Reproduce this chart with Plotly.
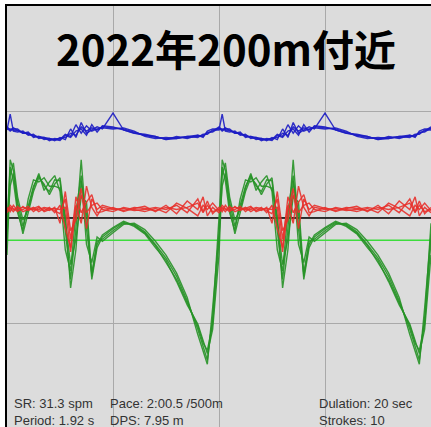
import plotly.graph_objects as go

# Stroke phase (fraction of one stroke cycle) at which each profile is sampled
PHASE = [0, 0.015, 0.03, 0.05, 0.075, 0.1, 0.125, 0.15, 0.175, 0.2, 0.225, 0.25,
         0.275, 0.3, 0.325, 0.35, 0.375, 0.4, 0.425, 0.45, 0.5, 0.55, 0.6, 0.65,
         0.7, 0.75, 0.8, 0.85, 0.9, 0.925, 0.945, 0.97]

# Blue trace: four overlaid strokes
BLUE_STROKES = [
    [0.84, 0.84, 0.83, 0.82, 0.81, 0.79, 0.78, 0.76, 0.75, 0.74, 0.74, 0.75, 0.76, 0.80, 0.78, 0.86,
     0.82, 0.85, 0.83, 0.86, 0.85, 0.84, 0.81, 0.78, 0.76, 0.75, 0.76, 0.76, 0.77, 0.78, 0.80, 0.82],
    [0.86, 0.83, 0.85, 0.83, 0.80, 0.80, 0.77, 0.77, 0.76, 0.75, 0.73, 0.76, 0.74, 0.84, 0.76, 0.90,
     0.80, 0.83, 0.86, 0.84, 0.99, 0.83, 0.80, 0.79, 0.77, 0.74, 0.75, 0.77, 0.76, 0.79, 0.79, 0.83],
    [0.83, 0.98, 0.82, 0.81, 0.82, 0.78, 0.79, 0.75, 0.76, 0.73, 0.75, 0.74, 0.79, 0.77, 0.88, 0.80,
     0.87, 0.82, 0.84, 0.85, 0.84, 0.85, 0.82, 0.77, 0.75, 0.76, 0.75, 0.77, 0.78, 0.77, 0.81, 0.81],
    [0.85, 0.82, 0.84, 0.84, 0.80, 0.81, 0.76, 0.77, 0.74, 0.75, 0.74, 0.73, 0.78, 0.76, 0.82, 0.84,
     0.78, 0.88, 0.81, 0.87, 0.86, 0.83, 0.80, 0.78, 0.77, 0.74, 0.77, 0.75, 0.78, 0.76, 0.82, 0.84],
]

# Red trace: four overlaid strokes
RED_STROKES = [
    [0.08, 0.10, 0.08, 0.09, 0.10, 0.09, 0.08, 0.08, 0.10, 0.09, 0.07, 0.04, 0.18, -0.20, 0.12, -0.05,
     0.30, 0.10, 0.02, 0.10, 0.08, 0.09, 0.07, 0.08, 0.10, 0.08, 0.12, 0.05, 0.18, 0.06, 0.16, 0.04],
    [0.10, 0.06, 0.12, 0.07, 0.08, 0.11, 0.06, 0.10, 0.07, 0.10, 0.05, 0.12, -0.10, -0.28, 0.20, 0.05,
     0.15, 0.22, 0.05, 0.06, 0.10, 0.06, 0.09, 0.11, 0.06, 0.12, 0.04, 0.16, 0.08, 0.20, 0.02, 0.10],
    [0.05, 0.09, 0.06, 0.11, 0.06, 0.08, 0.10, 0.06, 0.09, 0.07, 0.10, -0.05, 0.25, -0.12, -0.02, 0.22,
     0.05, 0.12, 0.14, 0.08, 0.06, 0.10, 0.08, 0.06, 0.09, 0.05, 0.14, 0.09, 0.02, 0.12, 0.08, 0.14],
    [0.07, 0.12, 0.09, 0.06, 0.11, 0.07, 0.09, 0.11, 0.06, 0.08, 0.09, 0.08, 0.10, -0.32, 0.08, 0.28,
     -0.10, 0.18, 0.08, 0.12, 0.09, 0.07, 0.10, 0.09, 0.07, 0.10, 0.08, 0.10, 0.14, 0.05, 0.12, 0.06],
]

# Green trace: four overlaid strokes
GREEN_STROKES = [
    [-0.21, 0.55, 0.45, 0.15, -0.08, 0.12, 0.30, 0.40, 0.30, 0.25, 0.36, 0.35, -0.15, -0.58, -0.10, 0.55,
     -0.10, -0.52, -0.22, -0.20, -0.12, -0.05, -0.06, -0.13, -0.25, -0.38, -0.55, -0.78, -1.05, -1.20, -1.34, -0.95],
    [-0.05, 0.48, 0.35, 0.05, -0.12, 0.18, 0.36, 0.34, 0.38, 0.30, 0.30, 0.28, 0.02, -0.66, -0.30, 0.35,
     0.05, -0.58, -0.28, -0.18, -0.10, -0.04, -0.08, -0.15, -0.28, -0.40, -0.60, -0.82, -1.00, -1.15, -1.28, -1.05],
    [-0.35, 0.40, 0.52, 0.20, -0.02, 0.08, 0.28, 0.42, 0.26, 0.34, 0.40, 0.25, -0.30, -0.50, 0.05, 0.40,
     -0.25, -0.42, -0.18, -0.22, -0.14, -0.06, -0.05, -0.11, -0.22, -0.35, -0.52, -0.75, -1.10, -1.25, -1.38, -0.85],
    [-0.15, 0.30, 0.42, 0.10, -0.15, 0.05, 0.25, 0.38, 0.32, 0.22, 0.32, 0.38, -0.05, -0.44, -0.20, 0.20,
     0.15, -0.55, -0.25, -0.16, -0.09, -0.03, -0.07, -0.14, -0.26, -0.42, -0.58, -0.80, -1.02, -1.18, -1.25, -1.00],
]

ZERO_LEVEL = 0.0
GREEN_LEVEL = -0.21
N_CYCLES = 2

TITLE = "2022年200m付近"
STATS_COL1 = ["SR: 31.3 spm", "Period: 1.92 s"]
STATS_COL2 = ["Pace: 2:00.5 /500m", "DPS: 7.95 m"]
STATS_COL3 = ["Dulation: 20 sec", "Strokes: 10"]

W, H = 431, 427
ML, MT = 7, 6
X_RANGE = [0, 2.0]
Y_RANGE = [-1.972, 2.0]

fig = go.Figure()

# reference levels
for level, color in [(GREEN_LEVEL, "#3ddc3d"), (ZERO_LEVEL, "#000000")]:
    fig.add_trace(go.Scatter(x=X_RANGE, y=[level, level], mode="lines",
                             line=dict(color=color, width=1.6), hoverinfo="skip"))


def cycle_trace(strokes, idx):
    """Join stroke idx in cycle 1 with the next stroke in cycle 2."""
    xs, ys = [], []
    for c in range(N_CYCLES):
        s = strokes[(idx + c) % len(strokes)]
        xs += [p + c for p in PHASE]
        ys += s
    xs.append(float(N_CYCLES))
    ys.append(strokes[(idx + N_CYCLES) % len(strokes)][0])
    return xs, ys


for strokes, color in [(GREEN_STROKES, "#279327"), (RED_STROKES, "#e8312c"),
                       (BLUE_STROKES, "#1c1cc4")]:
    for i in range(len(strokes)):
        xs, ys = cycle_trace(strokes, i)
        fig.add_trace(go.Scatter(x=xs, y=ys, mode="lines",
                                 line=dict(color=color, width=1.4), opacity=0.9,
                                 hoverinfo="skip"))

annotations = [dict(text=TITLE, xref="paper", yref="paper", x=(225.5 - ML) / (W - ML),
                    y=(H - 47.5) / (H - MT), xanchor="center", yanchor="middle",
                    showarrow=False,
                    font=dict(family="Noto Sans CJK JP", size=42, color="#000000",
                              weight="bold"))]

for col, left in [(STATS_COL1, 12), (STATS_COL2, 108), (STATS_COL3, 317)]:
    for row, text in enumerate(col):
        cy = 403 + row * 17
        annotations.append(dict(text=text, xref="paper", yref="paper",
                                x=(left - ML) / (W - ML), y=(H - cy) / (H - MT),
                                xanchor="left", yanchor="middle", showarrow=False,
                                font=dict(family="Liberation Sans", size=13,
                                          color="#333333")))

fig.update_layout(
    width=W, height=H,
    margin=dict(l=ML, r=0, t=MT, b=0, pad=0),
    paper_bgcolor="#ffffff",
    plot_bgcolor="#dcdcdc",
    showlegend=False,
    annotations=annotations,
    xaxis=dict(range=X_RANGE, tick0=0, dtick=0.5, showgrid=True, gridcolor="#a9a9a9",
               gridwidth=1, zeroline=False, showticklabels=False, ticks="",
               showline=True, linecolor="#000000", linewidth=1.5, side="top"),
    yaxis=dict(range=Y_RANGE, tick0=0, dtick=1, showgrid=True, gridcolor="#a9a9a9",
               gridwidth=1, zeroline=False, showticklabels=False, ticks="",
               showline=True, linecolor="#000000", linewidth=1.5),
)

fig.write_html("out.html")
